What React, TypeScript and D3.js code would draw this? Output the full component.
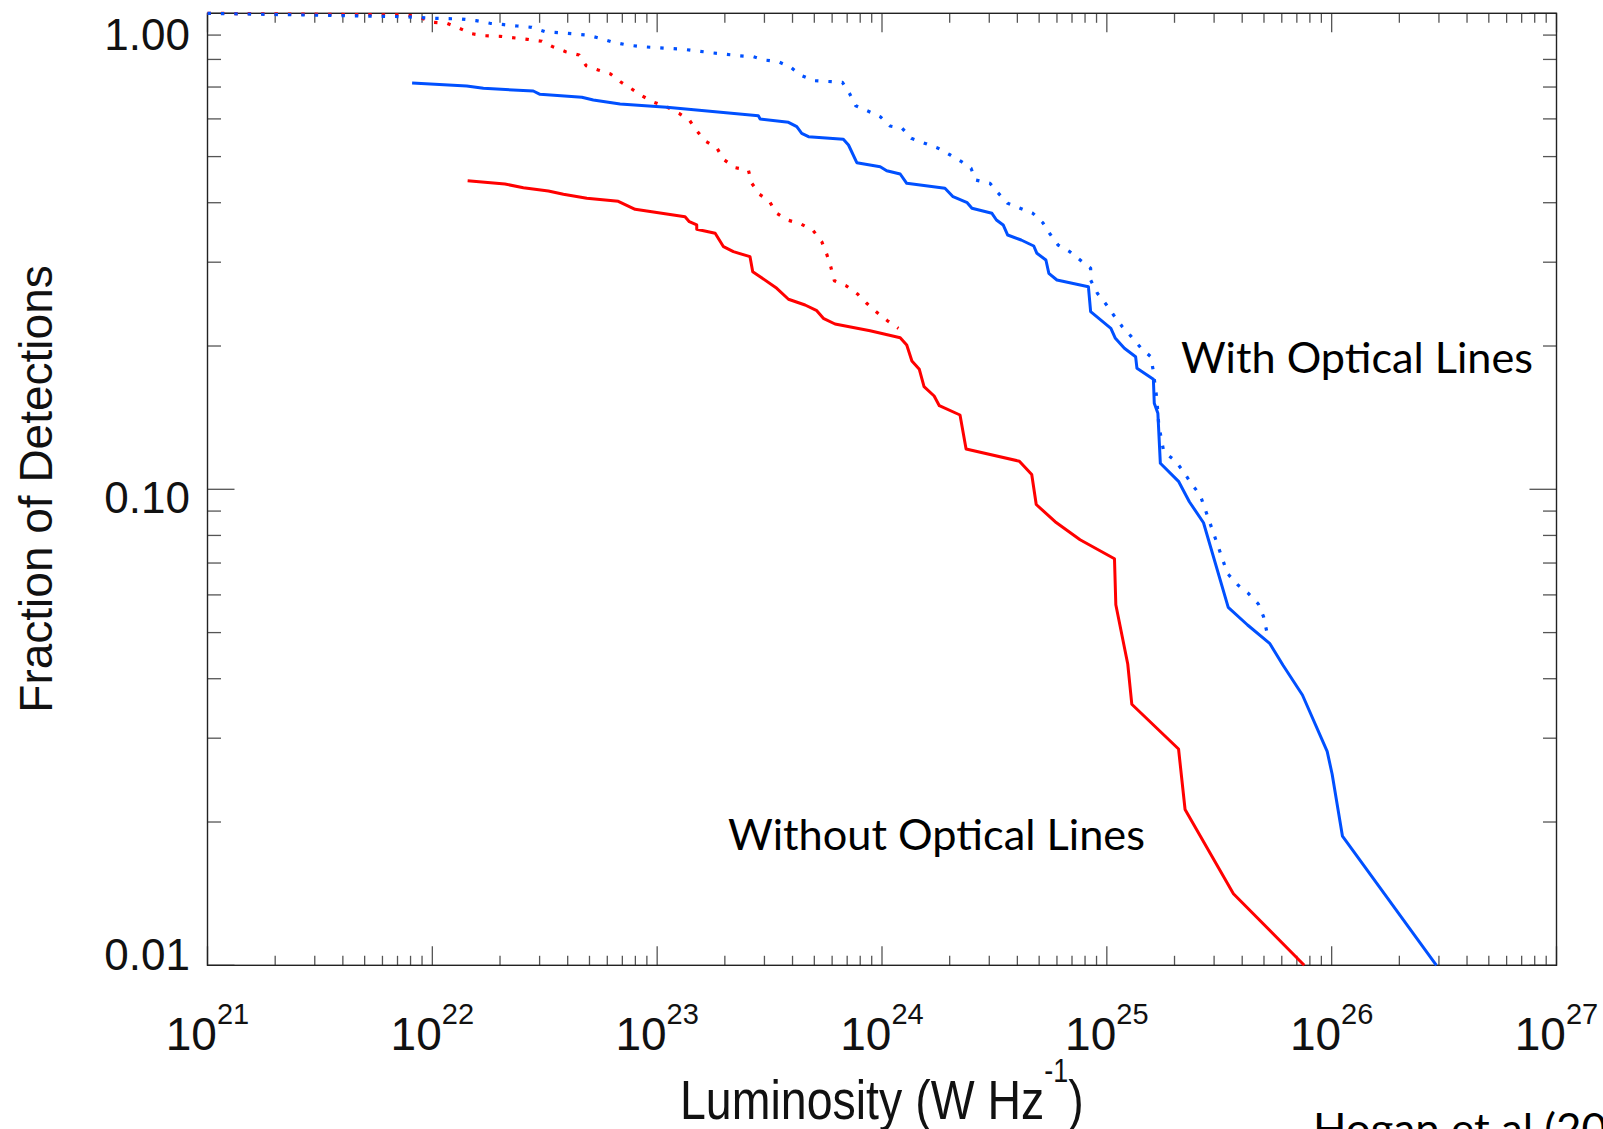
import React from "react";
import * as d3 from "d3";

// ---- data (log10 luminosity [W/Hz], log10 fraction of detections) ----
const withLinesSolidLogL = [21.910,22.153,22.227,22.449,22.479,22.665,22.716,22.835,23.043,23.450,23.458,23.584,23.621,23.643,23.673,23.828,23.851,23.888,23.992,24.021,24.081,24.110,24.280,24.316,24.379,24.400,24.489,24.509,24.539,24.559,24.619,24.675,24.689,24.729,24.742,24.778,24.918,24.928,25.018,25.038,25.078,25.128,25.134,25.207,25.211,25.227,25.238,25.320,25.367,25.430,25.540,25.626,25.724,25.783,25.870,25.980,26.002,26.048,26.466];
const withLinesSolidLogF = [-0.1464,-0.1527,-0.1576,-0.1632,-0.1702,-0.1765,-0.1821,-0.1905,-0.1975,-0.2151,-0.2221,-0.2290,-0.2382,-0.2521,-0.2592,-0.2647,-0.2767,-0.3139,-0.3223,-0.3307,-0.3376,-0.3571,-0.3676,-0.3853,-0.3979,-0.4097,-0.4202,-0.4342,-0.4447,-0.4658,-0.4763,-0.4889,-0.5042,-0.5183,-0.5462,-0.5603,-0.5744,-0.6269,-0.6618,-0.6828,-0.7038,-0.7214,-0.7458,-0.7689,-0.8193,-0.8403,-0.9454,-0.9840,-1.0261,-1.0702,-1.2479,-1.2851,-1.3235,-1.3691,-1.4321,-1.5506,-1.5981,-1.7288,-2.0];

const withLinesDottedLogL = [21.000,21.692,21.879,22.004,22.131,22.194,22.257,22.319,22.378,22.442,22.501,22.565,22.687,22.746,22.805,22.867,22.932,23.117,23.240,23.364,23.428,23.477,23.539,23.594,23.640,23.699,23.824,23.855,23.883,23.937,23.992,24.036,24.090,24.130,24.250,24.304,24.354,24.396,24.416,24.480,24.515,24.559,24.671,24.715,24.745,24.783,24.835,24.928,24.928,24.958,24.999,25.030,25.069,25.109,25.153,25.195,25.206,25.222,25.231,25.253,25.305,25.341,25.375,25.415,25.454,25.498,25.536,25.583,25.629,25.674,25.697,25.713];
const withLinesDottedLogF = [0,-0.0057,-0.0071,-0.0105,-0.0120,-0.0155,-0.0210,-0.0239,-0.0267,-0.0294,-0.0387,-0.0408,-0.0456,-0.0525,-0.0609,-0.0666,-0.0702,-0.0756,-0.0828,-0.0891,-0.0912,-0.0981,-0.1017,-0.1134,-0.1303,-0.1416,-0.1450,-0.1681,-0.1941,-0.2053,-0.2172,-0.2368,-0.2416,-0.2626,-0.2836,-0.2977,-0.3118,-0.3256,-0.3502,-0.3571,-0.3769,-0.3992,-0.4202,-0.4399,-0.4622,-0.4868,-0.5008,-0.5357,-0.5603,-0.5882,-0.6128,-0.6338,-0.6584,-0.6794,-0.7038,-0.7214,-0.7494,-0.8088,-0.8649,-0.9210,-0.9405,-0.9630,-0.9874,-1.0120,-1.0645,-1.1239,-1.1765,-1.2011,-1.2185,-1.2410,-1.2676,-1.3025];

const withoutLinesSolidLogL = [22.157,22.323,22.405,22.516,22.583,22.687,22.827,22.902,23.124,23.143,23.176,23.176,23.258,23.295,23.339,23.413,23.425,23.458,23.532,23.584,23.658,23.710,23.739,23.791,23.947,24.081,24.110,24.133,24.166,24.187,24.232,24.255,24.347,24.374,24.611,24.666,24.686,24.770,24.881,25.034,25.040,25.093,25.111,25.319,25.348,25.563,25.878];
const withoutLinesSolidLogF = [-0.3517,-0.3586,-0.3664,-0.3733,-0.3803,-0.3887,-0.3950,-0.4118,-0.4273,-0.4378,-0.4447,-0.4538,-0.4622,-0.4903,-0.5008,-0.5113,-0.5429,-0.5534,-0.5777,-0.6008,-0.6128,-0.6248,-0.6408,-0.6527,-0.6668,-0.6815,-0.6968,-0.7305,-0.7479,-0.7845,-0.8040,-0.8244,-0.8439,-0.9153,-0.9410,-0.9691,-1.0319,-1.0681,-1.1059,-1.1460,-1.2424,-1.3670,-1.4515,-1.5456,-1.6727,-1.8496,-2.0];

const withoutLinesDottedLogL = [21.000,21.886,21.945,21.997,22.064,22.120,22.175,22.234,22.301,22.423,22.487,22.536,22.593,22.653,22.684,22.738,22.791,22.838,22.887,22.934,22.986,23.043,23.097,23.143,23.176,23.213,23.265,23.295,23.347,23.406,23.421,23.455,23.499,23.528,23.579,23.639,23.692,23.732,23.754,23.772,23.788,23.840,23.891,23.932,23.977,24.024,24.073];
const withoutLinesDottedLogF = [0,-0.0036,-0.0084,-0.0189,-0.0210,-0.0315,-0.0429,-0.0471,-0.0483,-0.0546,-0.0588,-0.0702,-0.0807,-0.0876,-0.1101,-0.1191,-0.1269,-0.1443,-0.1590,-0.1737,-0.1870,-0.1968,-0.2101,-0.2242,-0.2466,-0.2683,-0.2824,-0.3067,-0.3244,-0.3298,-0.3571,-0.3803,-0.3943,-0.4189,-0.4342,-0.4426,-0.4553,-0.4798,-0.5057,-0.5324,-0.5618,-0.5723,-0.5897,-0.6092,-0.6282,-0.6458,-0.6618];

const xTickExponents = ["21", "22", "23", "24", "25", "26", "27"];
const yTickValues = [1, 0.1, 0.01];
const yTickLabels = ["1.00", "0.10", "0.01"];

const xTitle = "Luminosity (W Hz";
const yTitle = "Fraction of Detections";
const labelWith = "With Optical Lines";
const labelWithout = "Without Optical Lines";
const credit = "Hogan et al (20";

// ---- layout / style ----
const W = 1603;
const H = 1129;
const PL = 207.5, PR = 1556.5, PT = 13.3, PB = 965.3;
const yLabelNudge = [36.7, 24, 4.5];
const BLUE = "#0050ff";
const RED = "#ff0000";
const AX = "#222";
const TK = "#555";
const SANS = "'Liberation Sans', Arial, Helvetica, sans-serif";
const HUMAN = "Lato, 'Open Sans', sans-serif";

export default function App() {
  const x = d3.scaleLog().domain([1e21, 1e27]).range([PL, PR]);
  const y = d3.scaleLog().domain([0.01, 1]).range([PB, PT]);
  const line = d3
    .line<[number, number]>()
    .x((d) => x(Math.pow(10, d[0])))
    .y((d) => y(Math.pow(10, d[1])));
  const zip = (a: number[], b: number[]) => a.map((v, i) => [v, b[i]] as [number, number]);

  const xTicks = x.ticks();
  const yTicks = y.ticks();
  const isMajor = (v: number) => Math.abs(Math.log10(v) - Math.round(Math.log10(v))) < 1e-6;

  const xMaj = 19, xMin = 9.5, yMaj = 27, yMin = 13.5;

  return (
    <svg width={W} height={H} style={{ position: "absolute", left: 0, top: 0, background: "#fff" }}>
      <rect x={0} y={0} width={W} height={H} fill="#fff" />
      {/* ticks */}
      <g stroke={TK} strokeWidth={1.3}>
        {xTicks.map((v, i) => {
          const len = isMajor(v) ? xMaj : xMin;
          const xp = x(v);
          return (
            <g key={"xt" + i}>
              <line x1={xp} x2={xp} y1={PB} y2={PB - len} />
              <line x1={xp} x2={xp} y1={PT} y2={PT + len} />
            </g>
          );
        })}
        {yTicks.map((v, i) => {
          const len = isMajor(v) ? yMaj : yMin;
          const yp = y(v);
          return (
            <g key={"yt" + i}>
              <line x1={PL} x2={PL + len} y1={yp} y2={yp} />
              <line x1={PR} x2={PR - len} y1={yp} y2={yp} />
            </g>
          );
        })}
      </g>
      {/* frame */}
      <rect x={PL} y={PT} width={PR - PL} height={PB - PT} fill="none" stroke={AX} strokeWidth={1.4} />

      {/* curves */}
      <g fill="none" strokeLinejoin="round">
        <path d={line(zip(withoutLinesDottedLogL, withoutLinesDottedLogF)) || ""} stroke={RED} strokeWidth={3.2} strokeDasharray="3.4 10" />
        <path d={line(zip(withLinesDottedLogL, withLinesDottedLogF)) || ""} stroke={BLUE} strokeWidth={3.2} strokeDasharray="3.4 10" />
        <path d={line(zip(withoutLinesSolidLogL, withoutLinesSolidLogF)) || ""} stroke={RED} strokeWidth={3} />
        <path d={line(zip(withLinesSolidLogL, withLinesSolidLogF)) || ""} stroke={BLUE} strokeWidth={3} />
      </g>

      {/* y tick labels */}
      <g fontFamily={SANS} fontSize={44} fill="#111" textAnchor="end">
        {yTickValues.map((v, i) => (
          <text key={"yl" + i} x={190} y={y(v) + yLabelNudge[i]}>
            {yTickLabels[i]}
          </text>
        ))}
      </g>

      {/* x tick labels */}
      <g fontFamily={SANS} fill="#111" textAnchor="middle">
        {xTickExponents.map((e, i) => (
          <text key={"xl" + i} x={x(Math.pow(10, +e))} y={1050} fontSize={46}>
            10
            <tspan fontSize={29} dy={-26}>
              {e}
            </tspan>
          </text>
        ))}
      </g>

      {/* axis titles */}
      <text
        fontFamily={SANS}
        fontSize={46.5}
        fill="#111"
        transform={`translate(680,1119) scale(1,1.2)`}
      >
        {xTitle}
        <tspan fontSize={27} dy={-31}>-1</tspan>
        <tspan dy={31}>)</tspan>
      </text>
      <text
        fontFamily={SANS}
        fontSize={46}
        fill="#111"
        textAnchor="middle"
        transform={`translate(51.7,489) rotate(-90)`}
      >
        {yTitle}
      </text>

      {/* annotations */}
      <g fontFamily={HUMAN} fontSize={42} fill="#000">
        <text x={1181} y={372.7} textLength={352} lengthAdjust="spacingAndGlyphs">
          {labelWith}
        </text>
        <text x={728} y={849.5} textLength={417} lengthAdjust="spacingAndGlyphs">
          {labelWithout}
        </text>
        <text x={1313} y={1144} textLength={294} lengthAdjust="spacingAndGlyphs">
          {credit}
        </text>
      </g>
    </svg>
  );
}
